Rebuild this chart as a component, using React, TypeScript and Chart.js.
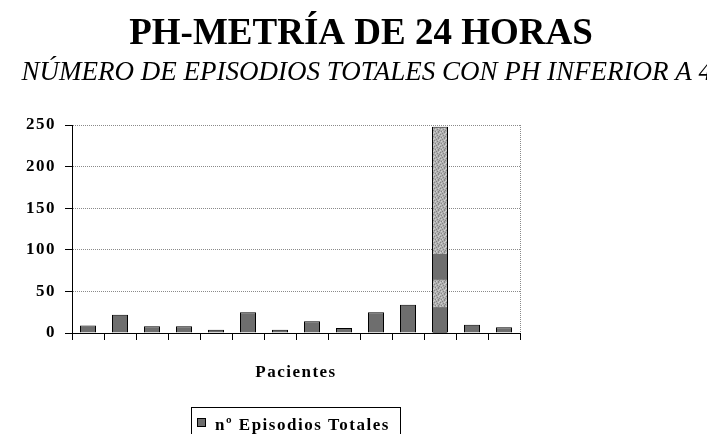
import React, { useEffect, useRef } from 'react';
import { Chart, registerables } from 'chart.js';

Chart.register(...registerables);

// ---- data ----
const TITLE = 'PH-METRÍA DE 24 HORAS';
const SUBTITLE = 'NÚMERO DE EPISODIOS TOTALES CON PH INFERIOR A 4';
const X_TITLE = 'Pacientes';
const SERIES_LABEL = 'nº Episodios Totales';
const patients = ['1', '2', '3', '4', '5', '6', '7', '8', '9', '10', '11', '12', '13', '14'];
const episodes = [9, 22, 8, 8, 4, 25, 4, 14, 6, 25, 34, 248, 10, 7];
const Y_MIN = 0;
const Y_MAX = 250;
const Y_STEP = 50;
// bar 12 is drawn with a speckled texture except for these solid bands (value ranges)
const texturedBarIndex = 11;
const texturedBarSolidBands: [number, number][] = [[0, 31], [64, 95]];

const BAR_COLOR = '#6e6e6e';
const FONT = '"Liberation Serif", "Times New Roman", serif';

function makeTexture(ctx: CanvasRenderingContext2D): CanvasPattern | string {
  const c = document.createElement('canvas');
  c.width = 6;
  c.height = 6;
  const g = c.getContext('2d');
  if (!g) return '#b0b0b0';
  g.fillStyle = '#b0b0b0';
  g.fillRect(0, 0, 6, 6);
  const dark = [[0, 0], [3, 1], [1, 3], [4, 4], [5, 2], [2, 5], [4, 3]];
  const light = [[1, 1], [4, 0], [2, 3], [5, 5], [0, 4]];
  g.fillStyle = '#858585';
  dark.forEach(([x, y]) => g.fillRect(x, y, 1, 1));
  g.fillStyle = '#cfcfcf';
  light.forEach(([x, y]) => g.fillRect(x, y, 1, 1));
  return ctx.createPattern(c, 'repeat') || '#b0b0b0';
}

const spacingPlugin = {
  id: 'spacing',
  beforeUpdate(chart: any) {
    chart.ctx.letterSpacing = '1.5px';
  },
  beforeDraw(chart: any) {
    chart.ctx.letterSpacing = '1.5px';
  },
};

const texturePlugin = {
  id: 'texture',
  afterDatasetsDraw(chart: any) {
    const meta = chart.getDatasetMeta(0);
    const el = meta.data[texturedBarIndex];
    if (!el) return;
    const y = chart.scales.y;
    const { x, width, base } = el.getProps(['x', 'width', 'base'], true);
    const ctx = chart.ctx;
    ctx.save();
    const left = x - width / 2 + 1;
    const w = width - 2;
    const top = y.getPixelForValue(episodes[texturedBarIndex]) + 1;
    ctx.fillStyle = makeTexture(ctx);
    ctx.fillRect(left, top, w, base - top);
    ctx.fillStyle = BAR_COLOR;
    texturedBarSolidBands.forEach(([lo, hi]) => {
      const y1 = y.getPixelForValue(hi);
      const y2 = y.getPixelForValue(lo);
      ctx.fillRect(left, y1, w, y2 - y1);
    });
    ctx.restore();
  },
};

const decorPlugin = {
  id: 'decor',
  afterDraw(chart: any) {
    const ctx = chart.ctx;
    const area = chart.chartArea;
    ctx.save();
    // right border of plot area
    ctx.strokeStyle = '#8a8a8a';
    ctx.lineWidth = 1;
    ctx.setLineDash([1, 1]);
    ctx.beginPath();
    const rx = Math.round(area.right) + 0.5;
    ctx.moveTo(rx, area.top);
    ctx.lineTo(rx, area.bottom);
    ctx.stroke();
    ctx.setLineDash([]);

    // header
    ctx.fillStyle = '#000';
    ctx.textBaseline = 'alphabetic';
    ctx.textAlign = 'center';
    ctx.font = `bold 37px ${FONT}`;
    ctx.letterSpacing = '0px';
    ctx.fillText(TITLE, 353, 36);
    ctx.textAlign = 'right';
    ctx.font = `italic 27px ${FONT}`;
    ctx.letterSpacing = '0px';
    ctx.fillText(SUBTITLE, 704, 72);

    // legend
    const ds = chart.data.datasets[0];
    ctx.strokeStyle = '#000';
    ctx.strokeRect(183.5, 399.5, 209, 60);
    ctx.fillStyle = BAR_COLOR;
    ctx.fillRect(189.5, 410.5, 8, 8);
    ctx.strokeRect(189.5, 410.5, 8, 8);
    ctx.textAlign = 'left';
    ctx.font = `bold 17px ${FONT}`;
    ctx.letterSpacing = '1.5px';
    ctx.fillStyle = '#000';
    ctx.fillText(ds.label, 207, 421.5);
    ctx.restore();
  },
};

export default function App() {
  const ref = useRef<HTMLCanvasElement>(null);

  useEffect(() => {
    document.documentElement.style.overflow = 'hidden';
    document.body.style.overflow = 'hidden';
    const canvas = ref.current;
    if (!canvas) return;
    const chart = new Chart(canvas, {
      type: 'bar',
      data: {
        labels: patients,
        datasets: [
          {
            label: SERIES_LABEL,
            data: episodes,
            backgroundColor: BAR_COLOR,
            borderColor: '#000',
            borderWidth: 1,
            barPercentage: 0.5,
            categoryPercentage: 1,
          },
        ],
      },
      options: {
        responsive: false,
        animation: false,
        devicePixelRatio: 1,
        layout: { padding: { left: 0, right: 187, top: 117, bottom: 51 } },
        plugins: {
          legend: { display: false },
          title: { display: false },
          tooltip: { enabled: false },
        },
        scales: {
          x: {
            afterFit(scale: any) {
              scale.height = 50;
            },
            ticks: { display: false },
            grid: {
              offset: true,
              drawOnChartArea: false,
              drawTicks: true,
              tickLength: 7,
              tickColor: '#000',
              color: '#000',
            },
            border: { display: true, color: '#000', width: 1 },
            title: {
              display: true,
              text: X_TITLE,
              color: '#000',
              font: { family: FONT, size: 17, weight: 'bold' },
              padding: { top: 0, bottom: 0 },
            },
          },
          y: {
            min: Y_MIN,
            max: Y_MAX,
            afterFit(scale: any) {
              scale.width = 64;
            },
            ticks: {
              stepSize: Y_STEP,
              color: '#000',
              padding: 9,
              font: { family: FONT, size: 17, weight: 'bold' },
            },
            grid: {
              color: '#8a8a8a',
              lineWidth: 1,
              drawTicks: true,
              tickLength: 7,
              tickColor: '#000',
              tickBorderDash: [],
            } as any,
            border: { display: true, color: '#000', width: 1, dash: [1, 1] },
          },
        },
      },
      plugins: [spacingPlugin, texturePlugin, decorPlugin],
    });
    return () => chart.destroy();
  }, []);

  return (
    <div style={{ width: 699, height: 426 }}>
      <canvas ref={ref} width={699} height={426} style={{ display: 'block' }} />
    </div>
  );
}
